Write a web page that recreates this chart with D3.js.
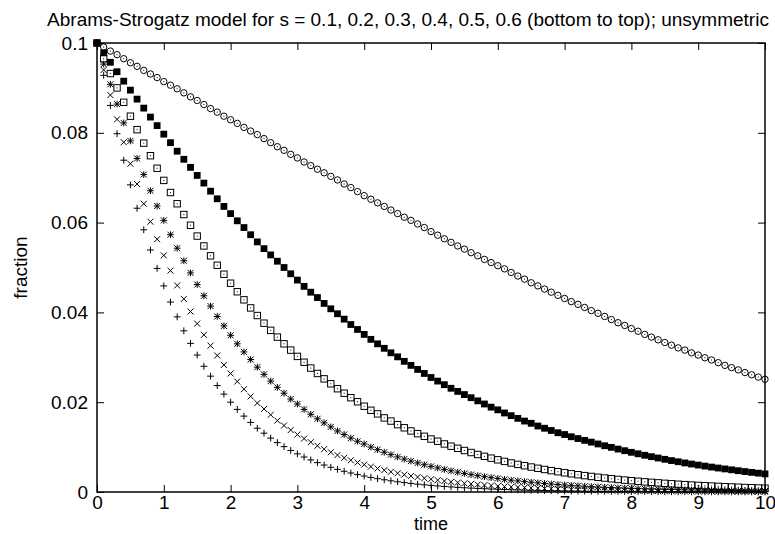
<!DOCTYPE html>
<html>
<head>
<meta charset="utf-8">
<script src="https://cdn.jsdelivr.net/npm/d3@7"></script>
<style>
  html, body { margin: 0; padding: 0; background: #fff; }
  svg { display: block; }
  text { font-family: "Liberation Sans", Arial, Helvetica, sans-serif; fill: #000; }
</style>
</head>
<body>
<svg id="chart" width="775" height="534"></svg>
<script>
// ---------------- data ----------------
const titleText = "Abrams-Strogatz model for s = 0.1, 0.2, 0.3, 0.4, 0.5, 0.6 (bottom to top); unsymmetric";
const xLabel = "time";
const yLabel = "fraction";
const xTicks = [0,1,2,3,4,5,6,7,8,9,10];
const xTickLabels = ["0","1","2","3","4","5","6","7","8","9","10"];
const yTicks = [0,0.02,0.04,0.06,0.08,0.1];
const yTickLabels = ["0","0.02","0.04","0.06","0.08","0.1"];
const sValues = [0.1,0.2,0.3,0.4,0.5,0.6];

const time = [0,0.1,0.2,0.3,0.4,0.5,0.6,0.7,0.8,0.9,
  1,1.1,1.2,1.3,1.4,1.5,1.6,1.7,1.8,1.9,
  2,2.1,2.2,2.3,2.4,2.5,2.6,2.7,2.8,2.9,
  3,3.1,3.2,3.3,3.4,3.5,3.6,3.7,3.8,3.9,
  4,4.1,4.2,4.3,4.4,4.5,4.6,4.7,4.8,4.9,
  5,5.1,5.2,5.3,5.4,5.5,5.6,5.7,5.8,5.9,
  6,6.1,6.2,6.3,6.4,6.5,6.6,6.7,6.8,6.9,
  7,7.1,7.2,7.3,7.4,7.5,7.6,7.7,7.8,7.9,
  8,8.1,8.2,8.3,8.4,8.5,8.6,8.7,8.8,8.9,
  9,9.1,9.2,9.3,9.4,9.5,9.6,9.7,9.8,9.9,
  10];

const s01 = [0.1000,0.0928,0.0861,0.0798,0.0739,0.0684,0.0632,0.0584,0.0539,0.0498,
  0.0459,0.0423,0.0390,0.0359,0.0331,0.0305,0.0280,0.0258,0.0237,0.0218,
  0.0200,0.0184,0.0169,0.0155,0.0142,0.0131,0.0120,0.0110,0.0101,0.00926,
  0.00850,0.00779,0.00714,0.00654,0.00600,0.00550,0.00504,0.00462,0.00423,0.00387,
  0.00355,0.00325,0.00297,0.00272,0.00249,0.00228,0.00209,0.00191,0.00175,0.00160,
  0.00147,0.00134,0.00123,0.00113,0.00103,0.000943,0.000863,0.000790,0.000723,0.000661,
  0.000605,0.000553,0.000506,0.000463,0.000424,0.000388,0.000355,0.000325,0.000297,0.000272,
  0.000249,0.000228,0.000208,0.000191,0.000175,0.000160,0.000146,0.000134,0.000122,0.000112,
  0.000102,0.0000936,0.0000857,0.0000784,0.0000717,0.0000656,0.0000600,0.0000549,0.0000503,0.0000460,
  0.0000421,0.0000385,0.0000352,0.0000322,0.0000295,0.0000270,0.0000247,0.0000226,0.0000207,0.0000189,
  0.0000173];

const s02 = [0.1000,0.0940,0.0884,0.0830,0.0779,0.0731,0.0686,0.0642,0.0602,0.0563,
  0.0527,0.0493,0.0460,0.0430,0.0402,0.0375,0.0350,0.0326,0.0304,0.0283,
  0.0264,0.0246,0.0229,0.0213,0.0198,0.0185,0.0172,0.0159,0.0148,0.0138,
  0.0128,0.0119,0.0111,0.0103,0.00954,0.00885,0.00822,0.00762,0.00707,0.00656,
  0.00609,0.00565,0.00524,0.00486,0.00450,0.00417,0.00386,0.00358,0.00332,0.00307,
  0.00285,0.00264,0.00244,0.00226,0.00210,0.00194,0.00180,0.00167,0.00154,0.00143,
  0.00132,0.00122,0.00113,0.00105,0.000970,0.000897,0.000830,0.000768,0.000710,0.000657,
  0.000608,0.000562,0.000520,0.000481,0.000445,0.000412,0.000381,0.000352,0.000326,0.000301,
  0.000279,0.000258,0.000238,0.000221,0.000204,0.000189,0.000175,0.000161,0.000149,0.000138,
  0.000128,0.000118,0.000109,0.000101,0.0000935,0.0000865,0.0000800,0.0000740,0.0000685,0.0000633,
  0.0000586];

const s03 = [0.1000,0.0953,0.0908,0.0864,0.0822,0.0782,0.0743,0.0707,0.0671,0.0637,
  0.0605,0.0573,0.0543,0.0515,0.0488,0.0462,0.0437,0.0414,0.0391,0.0370,
  0.0349,0.0330,0.0312,0.0295,0.0278,0.0262,0.0247,0.0233,0.0220,0.0207,
  0.0196,0.0184,0.0173,0.0163,0.0154,0.0145,0.0136,0.0128,0.0120,0.0113,
  0.0107,0.0100,0.00943,0.00886,0.00832,0.00781,0.00733,0.00689,0.00647,0.00607,
  0.00570,0.00536,0.00503,0.00472,0.00442,0.00414,0.00388,0.00364,0.00341,0.00320,
  0.00300,0.00281,0.00263,0.00247,0.00231,0.00217,0.00203,0.00190,0.00178,0.00167,
  0.00156,0.00147,0.00137,0.00129,0.00120,0.00113,0.00105,0.000986,0.000922,0.000862,
  0.000806,0.000754,0.000705,0.000660,0.000617,0.000577,0.000540,0.000505,0.000472,0.000442,
  0.000413,0.000386,0.000361,0.000338,0.000316,0.000296,0.000277,0.000259,0.000242,0.000226,
  0.000212];

const s04 = [0.1000,0.0965,0.0932,0.0900,0.0868,0.0837,0.0807,0.0777,0.0749,0.0721,
  0.0694,0.0667,0.0642,0.0618,0.0594,0.0570,0.0548,0.0526,0.0505,0.0485,
  0.0465,0.0446,0.0428,0.0410,0.0393,0.0376,0.0360,0.0345,0.0330,0.0316,
  0.0302,0.0289,0.0276,0.0264,0.0252,0.0241,0.0230,0.0220,0.0210,0.0201,
  0.0191,0.0182,0.0174,0.0165,0.0158,0.0150,0.0143,0.0136,0.0130,0.0124,
  0.0118,0.0113,0.0107,0.0102,0.00973,0.00924,0.00879,0.00835,0.00794,0.00754,
  0.00717,0.00681,0.00647,0.00615,0.00585,0.00556,0.00528,0.00502,0.00476,0.00452,
  0.00428,0.00406,0.00385,0.00365,0.00346,0.00328,0.00311,0.00295,0.00280,0.00265,
  0.00252,0.00239,0.00226,0.00215,0.00204,0.00193,0.00183,0.00173,0.00164,0.00155,
  0.00147,0.00139,0.00132,0.00125,0.00118,0.00112,0.00106,0.00100,0.000947,0.000896,
  0.000848];

const s05 = [0.1000,0.0978,0.0957,0.0936,0.0915,0.0895,0.0875,0.0855,0.0835,0.0816,
  0.0797,0.0778,0.0759,0.0741,0.0723,0.0705,0.0688,0.0670,0.0653,0.0636,
  0.0620,0.0604,0.0589,0.0573,0.0557,0.0542,0.0528,0.0514,0.0500,0.0486,
  0.0472,0.0458,0.0445,0.0433,0.0420,0.0408,0.0397,0.0385,0.0373,0.0362,
  0.0351,0.0340,0.0330,0.0320,0.0310,0.0301,0.0291,0.0282,0.0273,0.0264,
  0.0255,0.0247,0.0239,0.0231,0.0224,0.0217,0.0210,0.0203,0.0196,0.0189,
  0.0183,0.0176,0.0170,0.0164,0.0158,0.0153,0.0147,0.0142,0.0137,0.0132,
  0.0128,0.0123,0.0119,0.0115,0.0111,0.0107,0.0103,0.00994,0.00956,0.00920,
  0.00884,0.00851,0.00818,0.00787,0.00757,0.00728,0.00700,0.00674,0.00648,0.00623,
  0.00600,0.00577,0.00555,0.00534,0.00514,0.00494,0.00474,0.00455,0.00437,0.00420,
  0.00403];

const s06 = [0.1000,0.0991,0.0982,0.0974,0.0965,0.0956,0.0948,0.0939,0.0931,0.0923,
  0.0914,0.0906,0.0898,0.0889,0.0880,0.0872,0.0863,0.0854,0.0846,0.0837,
  0.0829,0.0821,0.0812,0.0804,0.0796,0.0787,0.0778,0.0769,0.0761,0.0752,
  0.0744,0.0735,0.0727,0.0719,0.0711,0.0703,0.0695,0.0686,0.0678,0.0669,
  0.0660,0.0652,0.0644,0.0636,0.0628,0.0620,0.0612,0.0605,0.0597,0.0589,
  0.0580,0.0572,0.0564,0.0556,0.0548,0.0541,0.0533,0.0526,0.0518,0.0511,
  0.0504,0.0497,0.0489,0.0481,0.0474,0.0466,0.0459,0.0452,0.0445,0.0438,
  0.0431,0.0424,0.0418,0.0411,0.0404,0.0398,0.0391,0.0384,0.0377,0.0371,
  0.0364,0.0358,0.0351,0.0345,0.0339,0.0333,0.0327,0.0321,0.0316,0.0310,
  0.0305,0.0299,0.0294,0.0288,0.0282,0.0277,0.0272,0.0266,0.0261,0.0256,
  0.0251];

// ---------------- layout ----------------
const W = 775, H = 534;
const plot = { left: 97, right: 765, top: 43, bottom: 492 };
const FONT = 19;

const svg = d3.select("#chart");
const x = d3.scaleLinear().domain([0, 10]).range([plot.left, plot.right]);
const y = d3.scaleLinear().domain([0, 0.1]).range([plot.bottom, plot.top]);

// marker styles (gnuplot point types 1..6)
const markers = ["plus", "cross", "star", "box", "fbox", "circle"];
const seriesValues = [s01, s02, s03, s04, s05, s06];

function markerPath(type) {
  const a = 3.4, c = 3.0;
  switch (type) {
    case "plus": return `M${-a},0H${a}M0,${-a}V${a}`;
    case "cross": return `M${-c},${-c}L${c},${c}M${-c},${c}L${c},${-c}`;
    case "star": return `M${-a},0H${a}M0,${-a}V${a}M${-c},${-c}L${c},${c}M${-c},${c}L${c},${-c}`;
    default: return "";
  }
}

const series = sValues.map((s, i) => ({
  s, marker: markers[i],
  points: time.map((t, j) => ({ t, v: seriesValues[i][j] }))
}));

const gPts = svg.append("g").attr("class", "points");
series.forEach(se => {
  const g = gPts.append("g").attr("class", "series s" + se.s);
  const sel = g.selectAll("g.pt").data(se.points).join("g")
    .attr("class", "pt")
    .attr("transform", d => `translate(${x(d.t)},${y(d.v)})`);
  if (se.marker === "plus" || se.marker === "cross" || se.marker === "star") {
    sel.append("path").attr("d", markerPath(se.marker))
      .attr("stroke", "#000").attr("stroke-width", 1).attr("fill", "none");
  } else if (se.marker === "box") {
    sel.append("rect").attr("x", -3.2).attr("y", -3.2).attr("width", 6.4).attr("height", 6.4)
      .attr("stroke", "#000").attr("stroke-width", 1).attr("fill", "none");
    sel.append("rect").attr("x", -0.5).attr("y", -0.5).attr("width", 1).attr("height", 1).attr("fill", "#000");
  } else if (se.marker === "fbox") {
    sel.append("rect").attr("x", -3.4).attr("y", -3.4).attr("width", 6.8).attr("height", 6.8)
      .attr("fill", "#000");
  } else if (se.marker === "circle") {
    sel.append("circle").attr("r", 3.2)
      .attr("stroke", "#000").attr("stroke-width", 1).attr("fill", "none");
    sel.append("rect").attr("x", -0.5).attr("y", -0.5).attr("width", 1).attr("height", 1).attr("fill", "#000");
  }
});

// ---------------- axes ----------------
const TICK = 7;
function styleAxis(g) {
  g.select(".domain").remove();
  g.selectAll(".tick line").attr("stroke", "#000").attr("stroke-width", 1);
  g.selectAll(".tick text").attr("font-size", FONT)
    .attr("font-family", '"Liberation Sans", Arial, Helvetica, sans-serif').attr("fill", "#000");
}
svg.append("g").attr("transform", `translate(0,${plot.bottom})`)
  .call(d3.axisBottom(x).tickValues(xTicks).tickFormat((d, i) => xTickLabels[i])
    .tickSizeInner(-TICK).tickSizeOuter(0).tickPadding(4))
  .call(styleAxis);
svg.append("g").attr("transform", `translate(0,${plot.top})`)
  .call(d3.axisTop(x).tickValues(xTicks).tickFormat("").tickSizeInner(-TICK).tickSizeOuter(0))
  .call(styleAxis);
svg.append("g").attr("transform", `translate(${plot.left},0)`)
  .call(d3.axisLeft(y).tickValues(yTicks).tickFormat((d, i) => yTickLabels[i])
    .tickSizeInner(-TICK).tickSizeOuter(0).tickPadding(9))
  .call(styleAxis);
svg.append("g").attr("transform", `translate(${plot.right},0)`)
  .call(d3.axisRight(y).tickValues(yTicks).tickFormat("").tickSizeInner(-TICK).tickSizeOuter(0))
  .call(styleAxis);

// frame
svg.append("rect")
  .attr("x", plot.left).attr("y", plot.top)
  .attr("width", plot.right - plot.left).attr("height", plot.bottom - plot.top)
  .attr("fill", "none").attr("stroke", "#000").attr("stroke-width", 1.5);

// ---------------- texts ----------------
svg.append("text").attr("x", 408).attr("y", 26).attr("text-anchor", "middle")
  .attr("font-size", FONT).text(titleText);
svg.append("text").attr("x", (plot.left + plot.right) / 2).attr("y", 530)
  .attr("text-anchor", "middle").attr("font-size", 18).text(xLabel);
svg.append("text").attr("transform", `translate(27,${(plot.top + plot.bottom) / 2}) rotate(-90)`)
  .attr("text-anchor", "middle").attr("font-size", FONT).text(yLabel);
</script>
</body>
</html>
